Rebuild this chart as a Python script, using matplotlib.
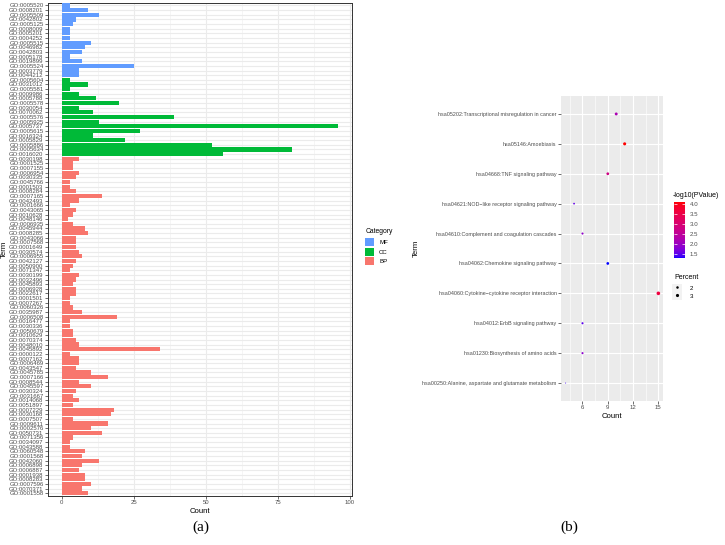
import numpy as np
import matplotlib
matplotlib.use("Agg")
import matplotlib.pyplot as plt
from matplotlib.patches import Patch
from matplotlib.lines import Line2D
from matplotlib.colors import LinearSegmentedColormap, Normalize
from matplotlib.cm import ScalarMappable

plt.rcParams['font.family'] = ['Liberation Sans', 'DejaVu Sans']

# ---------------- GO enrichment data (top to bottom) ----------------
mf_terms = ["GO:0005520", "GO:0008201", "GO:0005509", "GO:0042802", "GO:0005125",
            "GO:0008009", "GO:0005201", "GO:0004252", "GO:0005515", "GO:0046982",
            "GO:0042803", "GO:0005178", "GO:0019899", "GO:0005524", "GO:0003779",
            "GO:0044212"]
mf_counts = [3, 9, 13, 5, 4, 3, 3, 3, 10, 8, 7, 3, 7, 25, 6, 6]

cc_terms = ["GO:0005604", "GO:0031012", "GO:0005581", "GO:0009986", "GO:0005788",
            "GO:0005578", "GO:0030054", "GO:0070062", "GO:0005576", "GO:0005925",
            "GO:0005737", "GO:0005615", "GO:0016324", "GO:0005829", "GO:0005886",
            "GO:0005634", "GO:0016020"]
cc_counts = [3, 9, 3, 6, 12, 20, 6, 11, 39, 13, 96, 27, 11, 22, 52, 80, 56]

bp_terms = ["GO:0030198", "GO:0001525", "GO:0007155", "GO:0006954", "GO:0030335",
            "GO:0045766", "GO:0001503", "GO:0008284", "GO:0007165", "GO:0042493",
            "GO:0001666", "GO:0043065", "GO:0010628", "GO:0048146", "GO:0006935",
            "GO:0045944", "GO:0008285", "GO:0043066", "GO:0007568", "GO:0001649",
            "GO:0030574", "GO:0006955", "GO:0042127", "GO:0050900", "GO:0071347",
            "GO:0030199", "GO:0032496", "GO:0045893", "GO:0006928", "GO:0022617",
            "GO:0001501", "GO:0007267", "GO:0060326", "GO:0035987", "GO:0006508",
            "GO:0016477", "GO:0030336", "GO:0050679", "GO:0010629", "GO:0070374",
            "GO:0048010", "GO:0045892", "GO:0000122", "GO:0007162", "GO:0006469",
            "GO:0043547", "GO:0045785", "GO:0007166", "GO:0008544", "GO:0045597",
            "GO:0030324", "GO:0031667", "GO:0014068", "GO:0051897", "GO:0007229",
            "GO:0030168", "GO:0007507", "GO:0009611", "GO:0002576", "GO:0050731",
            "GO:0071356", "GO:0034097", "GO:0043588", "GO:0060548", "GO:0001568",
            "GO:0042060", "GO:0006898", "GO:0006887", "GO:0001938", "GO:0008283",
            "GO:0007596", "GO:0070371", "GO:0001558"]
bp_counts = [6, 4, 4, 6, 5, 3, 3, 5, 14, 6,
             3, 5, 4, 2, 4, 8, 9, 5, 5, 5,
             6, 7, 5, 4, 3, 6, 5, 4, 5, 5,
             3, 3, 4, 7, 19, 3, 3, 4, 4, 5,
             6, 34, 3, 6, 6, 5, 10, 16, 6, 10,
             5, 4, 6, 4, 18, 17, 4, 16, 10, 14,
             4, 3, 3, 8, 7, 13, 7, 6, 8, 8,
             10, 7, 9]

categories = ["MF", "CC", "BP"]
cat_colors = {"MF": "#619CFF", "CC": "#00BA38", "BP": "#F8766D"}

# ---------------- KEGG data (top to bottom) ----------------
kegg_terms = ["hsa05202:Transcriptional misregulation in cancer",
              "hsa05146:Amoebiasis",
              "hsa04668:TNF signaling pathway",
              "hsa04621:NOD\u2212like receptor signaling pathway",
              "hsa04610:Complement and coagulation cascades",
              "hsa04062:Chemokine signaling pathway",
              "hsa04060:Cytokine\u2212cytokine receptor interaction",
              "hsa04012:ErbB signaling pathway",
              "hsa01230:Biosynthesis of amino acids",
              "hsa00250:Alanine, aspartate and glutamate metabolism"]
kegg_counts = [10, 11, 9, 5, 6, 9, 15, 6, 6, 4]
kegg_logp = [2.2, 4.13, 2.8, 1.55, 1.9, 1.28, 3.6, 1.5, 1.85, 1.4]
kegg_percent = [2.60, 2.86, 2.34, 1.30, 1.56, 2.34, 3.90, 1.56, 1.56, 1.04]
cbar_ticks = [1.5, 2.0, 2.5, 3.0, 3.5, 4.0]
size_breaks = [2, 3]

# ---------------- colour map: blue -> red interpolated in Lab ----------------
_M = np.array([[0.4124, 0.3576, 0.1805], [0.2126, 0.7152, 0.0722], [0.0193, 0.1192, 0.9505]])
_Mi = np.linalg.inv(_M)
_wp = np.array([0.95047, 1.0, 1.08883])


def _lin(c):
    c = np.asarray(c, float)
    return np.where(c <= 0.04045, c / 12.92, ((c + 0.055) / 1.055) ** 2.4)


def _gam(c):
    c = np.clip(c, 0, 1)
    return np.where(c <= 0.0031308, 12.92 * c, 1.055 * c ** (1 / 2.4) - 0.055)


def to_lab(rgb):
    xyz = _M @ _lin(rgb) / _wp
    d = 6 / 29
    f = np.where(xyz > d ** 3, np.cbrt(xyz), xyz / (3 * d ** 2) + 4 / 29)
    return np.array([116 * f[1] - 16, 500 * (f[0] - f[1]), 200 * (f[1] - f[2])])


def from_lab(lab):
    fy = (lab[0] + 16) / 116
    f = np.array([fy + lab[1] / 500, fy, fy - lab[2] / 200])
    d = 6 / 29
    xyz = np.where(f > d, f ** 3, 3 * d ** 2 * (f - 4 / 29)) * _wp
    return _gam(_Mi @ xyz)


lab_lo, lab_hi = to_lab([0, 0, 1]), to_lab([1, 0, 0])
cmap = LinearSegmentedColormap.from_list(
    "bluered", [from_lab(lab_lo + t * (lab_hi - lab_lo)) for t in np.linspace(0, 1, 64)])
norm = Normalize(min(kegg_logp), max(kegg_logp))

pmin, pmax = min(kegg_percent), max(kegg_percent)


def diam(p):
    t = (np.asarray(p, float) - pmin) / (pmax - pmin)
    return 0.7 + np.sqrt(np.clip(t, 0, 1)) * 1.9


# ---------------- figure ----------------
W, H = 725, 545
fig = plt.figure(figsize=(W / 100, H / 100), dpi=100)
fig.patch.set_facecolor("white")


def fx(px):
    return px / W


def fy(py):
    return 1 - py / H


txt_col = "#4D4D4D"
tick_col = "#333333"

# ----- panel (a) -----
terms = mf_terms + cc_terms + bp_terms
counts = mf_counts + cc_counts + bp_counts
cats = ["MF"] * len(mf_terms) + ["CC"] * len(cc_terms) + ["BP"] * len(bp_terms)
n = len(terms)
ypos = np.arange(n)

ax1 = fig.add_axes([fx(48), fy(496), fx(352) - fx(48), fy(2.7) - fy(496)])
ax1.barh(ypos, counts, height=0.9, color=[cat_colors[c] for c in cats], zorder=3)
ax1.set_ylim(n - 1 + 0.6, -0.6)
ax1.set_xlim(-4.8, 100.8)
ax1.set_yticks(ypos)
ax1.set_yticklabels(terms)
ax1.set_xticks([0, 25, 50, 75, 100])
ax1.set_xticks([12.5, 37.5, 62.5, 87.5], minor=True)
ax1.grid(which="major", color="#EBEBEB", lw=0.8, zorder=0)
ax1.grid(which="minor", axis="x", color="#F2F2F2", lw=0.5, zorder=0)
ax1.set_axisbelow(True)
for s in ax1.spines.values():
    s.set_color(tick_col)
    s.set_linewidth(0.7)
ax1.tick_params(axis="both", which="major", length=2, width=0.5, color=tick_col,
                labelsize=4.3, labelcolor=txt_col, pad=1.2)
ax1.tick_params(axis="both", which="minor", length=0)
ax1.set_xlabel("Count", fontsize=5.6, labelpad=1.5)
ax1.set_ylabel("Term", fontsize=5.6, labelpad=1)

# legend for categories
fig.text(fx(366), fy(231), "Category", fontsize=4.9, ha="left", va="center")
fs = 4.4
fpx = fs * 100 / 72
fig.legend(handles=[Patch(facecolor=cat_colors[c], edgecolor="none") for c in categories],
           labels=categories, loc="upper left", bbox_to_anchor=(fx(365), fy(238.5)),
           frameon=False, fontsize=fs, borderpad=0, borderaxespad=0,
           handlelength=9 / fpx, handleheight=10 / fpx, labelspacing=1.2 / fpx,
           handletextpad=5 / fpx)

# ----- panel (b) -----
ky = np.arange(len(kegg_terms))
ax2 = fig.add_axes([fx(561), fy(401), fx(663) - fx(561), fy(96) - fy(401)])
ax2.set_facecolor("#EBEBEB")
ax2.scatter(kegg_counts, ky, c=kegg_logp, cmap=cmap, norm=norm,
            s=diam(kegg_percent) ** 2, linewidths=0, zorder=3)
ax2.set_ylim(len(kegg_terms) - 1 + 0.6, -0.6)
ax2.set_xlim(3.45, 15.55)
ax2.set_yticks(ky)
ax2.set_yticklabels(kegg_terms)
ax2.set_xticks([6, 9, 12, 15])
ax2.set_xticks([4.5, 7.5, 10.5, 13.5], minor=True)
ax2.grid(which="major", color="white", lw=0.8)
ax2.grid(which="minor", axis="x", color="white", lw=0.4)
ax2.set_axisbelow(True)
for s in ax2.spines.values():
    s.set_visible(False)
ax2.tick_params(axis="both", which="major", length=2, width=0.5, color=tick_col,
                labelsize=3.9, labelcolor=txt_col, pad=1.2)
ax2.tick_params(axis="x", which="major", labelsize=4.4)
ax2.tick_params(axis="both", which="minor", length=0)
ax2.set_xlabel("Count", fontsize=5.6, labelpad=1.5)
ax2.set_ylabel("Term", fontsize=5.6, labelpad=1.5)

# colour bar
cax = fig.add_axes([fx(674), fy(258.3), fx(685) - fx(674), fy(201.7) - fy(258.3)])
cb = fig.colorbar(ScalarMappable(norm=norm, cmap=cmap), cax=cax, ticks=cbar_ticks)
cb.outline.set_visible(False)
cax.set_yticklabels(["%.1f" % t for t in cbar_ticks])
cax.yaxis.set_ticks_position("both")
cax.tick_params(length=2, width=0.5, color="white", direction="in",
                labelsize=4.4, labelcolor=txt_col, pad=3.6, labelleft=False)
fig.text(fx(673), fy(195), "-log10(PValue)", fontsize=5.0, ha="left", va="center")

# size legend
fig.text(fx(674), fy(277.3), "Percent", fontsize=5.0, ha="left", va="center")
sh = [(Patch(facecolor="#F2F2F2", edgecolor="none"),
       Line2D([], [], marker="o", ls="", color="black", markeredgewidth=0,
              markersize=float(diam(b)))) for b in size_breaks]
fig.legend(handles=sh, labels=[str(b) for b in size_breaks], loc="upper left",
           bbox_to_anchor=(fx(671.7), fy(283.7)), frameon=False, fontsize=fs,
           borderpad=0, borderaxespad=0, handlelength=10 / fpx, handleheight=10 / fpx,
           labelspacing=0.4 / fpx, handletextpad=8 / fpx)

# panel labels
fig.text(fx(201), fy(527), "(a)", fontsize=11, ha="center", va="center",
         family=["Liberation Serif", "DejaVu Serif"])
fig.text(fx(569), fy(527), "(b)", fontsize=11, ha="center", va="center",
         family=["Liberation Serif", "DejaVu Serif"])

fig.savefig("out.png", dpi=100)
